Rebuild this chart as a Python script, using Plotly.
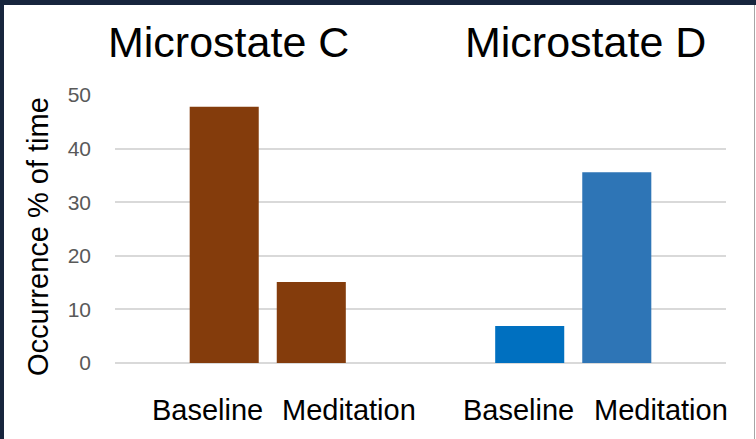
import plotly.graph_objects as go

# ---- data ----
microstates = ["Microstate C", "Microstate D"]
conditions = ["Baseline", "Meditation"]
baseline_values = [47.8, 6.9]
meditation_values = [15.1, 35.6]
baseline_colors = ["#843C0C", "#0070C0"]
meditation_colors = ["#843C0C", "#2E75B6"]
y_ticks = [0, 10, 20, 30, 40, 50]
y_title = "Occurrence % of time"

# ---- layout geometry (pixels) ----
W, H = 756, 439
L, R, T, B = 115, 30, 95, 76
PW, PH = W - L - R, H - T - B

def px(x):
    return (x - L) / PW

def py(y):
    return (H - B - y) / PH

FONT = "Liberation Sans, Arial, sans-serif"

fig = go.Figure()
fig.add_trace(go.Bar(name=conditions[0], x=microstates, y=baseline_values,
                     marker=dict(color=baseline_colors, line=dict(width=0))))
fig.add_trace(go.Bar(name=conditions[1], x=microstates, y=meditation_values,
                     marker=dict(color=meditation_colors, line=dict(width=0))))

annotations = []
# titles above each group
for label, cx in zip(microstates, [228, 585]):
    annotations.append(dict(text=label, x=px(cx), y=py(42), xref="paper", yref="paper",
                            xanchor="center", yanchor="middle", showarrow=False,
                            font=dict(family=FONT, size=43, color="#000000")))
# condition labels below bars
for label, cx in zip(conditions * 2, [207, 349, 518, 661]):
    annotations.append(dict(text=label, x=px(cx), y=py(410), xref="paper", yref="paper",
                            xanchor="center", yanchor="middle", showarrow=False,
                            font=dict(family=FONT, size=29, color="#000000")))
# y axis title
annotations.append(dict(text=y_title, x=px(38), y=py(237), xref="paper", yref="paper",
                        xanchor="center", yanchor="middle", showarrow=False, textangle=-90,
                        font=dict(family=FONT, size=29, color="#000000")))

shapes = [
    # dark frame top and left
    dict(type="rect", xref="paper", yref="paper", x0=px(0), x1=px(W), y0=py(5), y1=py(0),
         fillcolor="#17253D", line=dict(width=0), layer="above"),
    dict(type="rect", xref="paper", yref="paper", x0=px(0), x1=px(4), y0=py(H), y1=py(0),
         fillcolor="#17253D", line=dict(width=0), layer="above"),
    dict(type="rect", xref="paper", yref="paper", x0=px(754), x1=px(755), y0=py(H), y1=py(5),
         fillcolor="#A6A6A6", line=dict(width=0), layer="above"),
]

fig.update_layout(
    width=W, height=H,
    margin=dict(l=L, r=R, t=T, b=B, pad=0),
    paper_bgcolor="#FFFFFF", plot_bgcolor="#FFFFFF",
    barmode="group", bargap=0.43, bargroupgap=0.207,
    showlegend=False,
    annotations=annotations,
    shapes=shapes,
    xaxis=dict(showticklabels=False, showgrid=False, zeroline=False, showline=False, ticks=""),
    yaxis=dict(range=[0, 50], tickvals=y_ticks, showgrid=True, gridcolor="#D9D9D9", gridwidth=1.5,
               zeroline=True, zerolinecolor="#D9D9D9", zerolinewidth=1.5, showline=False,
               ticks="", ticklabelstandoff=23,
               tickfont=dict(family=FONT, size=21, color="#595959")),
)

fig.write_html("out.html", config={"displayModeBar": False},
               post_script="document.body.style.margin='0';document.body.style.overflow='hidden';")
